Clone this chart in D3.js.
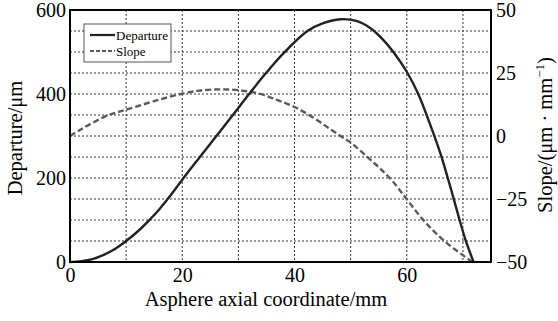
<!DOCTYPE html>
<html>
<head>
<meta charset="utf-8">
<script src="https://cdn.jsdelivr.net/npm/d3@7"></script>
<style>
  body { margin: 0; background: #fff; }
  svg text { font-family: "Liberation Serif", "Times New Roman", serif; }
</style>
</head>
<body>
<svg width="558" height="321"></svg>
<script>
// departure curve (x in mm, departure in µm)
const depX = [0, 2, 4, 6, 8, 10, 12, 14, 16, 18, 20, 22.9, 25.9, 28.9, 31.8, 34.8, 38.1, 42.3, 45, 48.2, 51, 53.6, 56, 58, 60, 62, 64, 66, 67.3, 68.3, 69.3, 70.5, 71.9]
const depY = [0, 2, 7, 17, 31, 50, 72, 98, 127, 160, 196, 246, 297, 348, 398, 448, 498, 550, 568, 578, 574, 556, 526, 493, 453, 401, 333, 258, 200, 153, 105, 51, 0]
// slope curve (x in mm, slope in µm/mm)
const slopeX = [0, 2, 4, 6.8, 9, 12, 16, 20, 23, 26.3, 30, 33.9, 37, 40, 43.2, 46, 48.2, 50, 53.6, 55.4, 57.5, 59.8, 62.8, 66.7, 71.7]
const slopeY = [0, 2.7, 5.2, 8.3, 9.8, 11.8, 14.5, 16.8, 18, 18.5, 18.2, 16.7, 14.2, 11.5, 7.5, 3.3, 0, -2.6, -9.6, -13.2, -18, -24.5, -33, -41.7, -50]

const xTicks = [0, 20, 40, 60]
const leftTicks = [0, 200, 400, 600]
const rightTicks = [-50, -25, 0, 25, 50]

const svg = d3.select('svg')
const margin = { top: 10, right: 67, bottom: 59, left: 70 }
const width = +svg.attr('width')
const height = +svg.attr('height')
const innerWidth = width - margin.left - margin.right
const innerHeight = height - margin.top - margin.bottom

const xScale = d3.scaleLinear().domain([0, 75]).range([0, innerWidth])
const yScale = d3.scaleLinear().domain([0, 600]).range([innerHeight, 0])
const ySlope = d3.scaleLinear().domain([-50, 50]).range([innerHeight, 0])

const g = svg.append('g').attr('transform', `translate(${margin.left},${margin.top})`)

// dotted grid
const grid = g.append('g')
grid.selectAll('line.vx').data(d3.range(10, 75, 10))
  .enter().append('line')
  .attr('x1', d => xScale(d)).attr('x2', d => xScale(d))
  .attr('y1', 0).attr('y2', innerHeight)
grid.selectAll('line.hy').data(d3.range(50, 600, 50))
  .enter().append('line')
  .attr('x1', 0).attr('x2', innerWidth)
  .attr('y1', d => yScale(d)).attr('y2', d => yScale(d))
grid.selectAll('line')
  .attr('stroke', '#333')
  .attr('stroke-width', 1)
  .attr('stroke-dasharray', '2,2')

// curves
const depData = depX.map((x, i) => [x, depY[i]])
const slopeData = slopeX.map((x, i) => [x, slopeY[i]])

g.append('path').datum(slopeData)
  .attr('fill', 'none')
  .attr('stroke', '#5a5a5a')
  .attr('stroke-width', 2.4)
  .attr('stroke-dasharray', '6,3')
  .attr('d', d3.line().x(d => xScale(d[0])).y(d => ySlope(d[1])).curve(d3.curveCatmullRom.alpha(0.5)))

g.append('path').datum(depData)
  .attr('fill', 'none')
  .attr('stroke', '#222')
  .attr('stroke-width', 2.4)
  .attr('d', d3.line().x(d => xScale(d[0])).y(d => yScale(d[1])).curve(d3.curveCatmullRom.alpha(0.5)))

// frame
g.append('rect')
  .attr('width', innerWidth).attr('height', innerHeight)
  .attr('fill', 'none').attr('stroke', '#000').attr('stroke-width', 2)

// axes
const xAxisG = g.append('g')
  .attr('transform', `translate(0,${innerHeight})`)
  .call(d3.axisBottom(xScale).tickValues(xTicks).tickSize(0).tickPadding(6))
const yAxisG = g.append('g')
  .call(d3.axisLeft(yScale).tickValues(leftTicks).tickSize(0).tickPadding(4))
const rAxisG = g.append('g')
  .attr('transform', `translate(${innerWidth},0)`)
  .call(d3.axisRight(ySlope).tickValues(rightTicks).tickSize(0).tickPadding(5)
    .tickFormat(d => d < 0 ? '\u2212' + Math.abs(d) : d))

;[xAxisG, yAxisG, rAxisG].forEach(a => {
  a.select('.domain').remove()
  a.attr('font-family', null)
  a.selectAll('text').style('font-size', '20px').attr('fill', '#000')
})

// axis titles
svg.append('text')
  .attr('x', 266)
  .attr('y', 306)
  .attr('text-anchor', 'middle')
  .style('font-size', '20.5px')
  .text('Asphere axial coordinate/mm')

svg.append('text')
  .attr('transform', 'translate(22,138) rotate(-90)')
  .attr('text-anchor', 'middle')
  .style('font-size', '20.5px')
  .text('Departure/\u03bcm')

const rTitle = svg.append('text')
  .attr('transform', 'translate(552,135) rotate(-90)')
  .attr('text-anchor', 'middle')
  .style('font-size', '20.5px')
rTitle.append('tspan').text('Slope/(\u03bcm \u00b7 mm')
rTitle.append('tspan').attr('dy', -8).style('font-size', '13px').text('\u22121')
rTitle.append('tspan').attr('dy', 8).text(')')

// legend
const legend = svg.append('g').attr('transform', 'translate(84,24)')
legend.append('rect')
  .attr('width', 87).attr('height', 38)
  .attr('fill', '#fff').attr('stroke', '#555').attr('stroke-width', 1)
const items = [
  { name: 'Departure', dash: null, color: '#222' },
  { name: 'Slope', dash: '4,2', color: '#5a5a5a' }
]
items.forEach((it, i) => {
  const y = 11 + i * 16
  legend.append('line')
    .attr('x1', 6).attr('x2', 31).attr('y1', y).attr('y2', y)
    .attr('stroke', it.color).attr('stroke-width', 2.2)
    .attr('stroke-dasharray', it.dash)
  legend.append('text')
    .attr('x', 32).attr('y', y + 4.5)
    .style('font-size', '13px')
    .text(it.name)
})
</script>
</body>
</html>
